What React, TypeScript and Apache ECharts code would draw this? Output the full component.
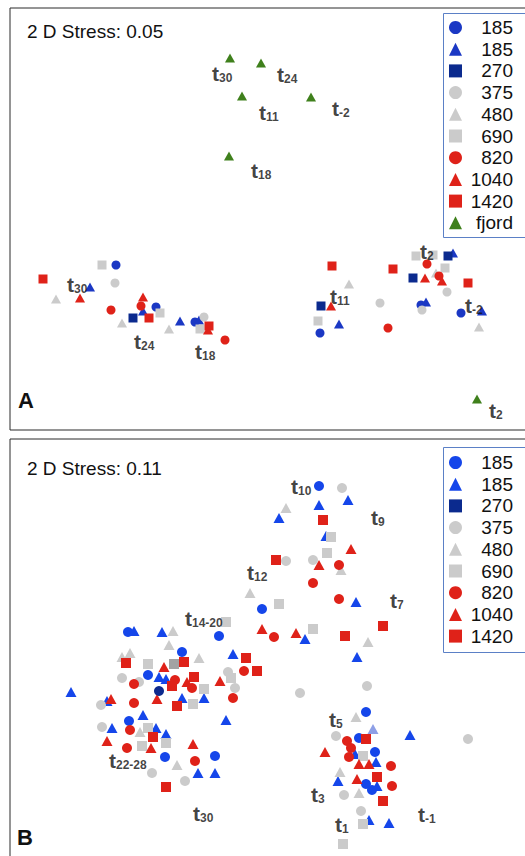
import React, { useEffect, useRef } from "react";
import * as echarts from "echarts";

const FONT = "'Liberation Sans', Arial, Helvetica, sans-serif";

// ---------- Panel A (2 D Stress 0.05) : NMDS coordinates (plot units) ----------
const A_C185 = [[116,265],[156,307],[195,322],[320,333],[421,305],[461,313]];
const A_T185 = [[90,287],[143,311],[180,321],[199,320],[339,324],[426,302],[482,311],[453,253]];
const A_S270 = [[133,318],[321,306],[413,278],[448,256]];
const A_C375 = [[115,283],[204,317],[380,303],[447,292],[422,310]];
const A_T480 = [[56,299],[122,323],[169,329],[349,284],[436,273],[479,327]];
const A_S690 = [[102,265],[160,313],[200,329],[318,321],[416,256],[433,255],[445,268]];
const A_C820 = [[111,310],[141,306],[225,340],[388,328],[427,264],[439,276]];
const A_T1040 = [[80,298],[143,297],[208,330],[331,306],[425,278],[442,281]];
const A_S1420 = [[43,279],[149,318],[209,326],[332,266],[393,269],[468,283]];
const A_FJORD = [[230,58],[261,63],[242,96],[311,97],[229,156],[477,399]];
const A_LABELS: [number, number, string][] = [
  [212,72,"30"],[277,73,"24"],[259,111,"11"],[332,107,"-2"],[251,169,"18"],[489,409,"2"],
  [67,283,"30"],[134,340,"24"],[195,350,"18"],[330,295,"11"],[420,250,"2"],[465,304,"-2"],
];

// ---------- Panel B (2 D Stress 0.11) ----------
const B_C185 = [[319,486],[262,609],[219,636],[128,632],[182,652],[148,675],[129,721],[165,757],[215,756],
  [366,712],[359,738],[375,752],[366,784],[372,790]];
const B_C185_DARK = [[159,691]];
const B_T185 = [[348,500],[319,505],[279,518],[326,536],[356,602],[305,639],[357,657],[134,631],[162,632],
  [233,654],[159,677],[166,679],[182,698],[204,698],[226,720],[71,692],[107,701],[143,715],[112,728],[156,728],
  [166,734],[198,773],[215,773],[410,735],[355,754],[376,762],[338,781],[377,786],[369,820],[389,823]];
const B_T185_FADED = [[373,729]];
const B_S270: number[][] = [];
const B_C375 = [[342,488],[286,561],[313,560],[228,672],[235,688],[122,678],[139,682],[101,705],[102,727],
  [152,773],[185,781],[300,693],[367,686],[468,739],[336,736],[344,795],[361,811]];
const B_T480 = [[286,508],[341,570],[250,593],[368,642],[173,631],[169,645],[199,658],[130,653],[122,657],
  [140,732],[177,765],[356,717],[340,772],[359,793]];
const B_S690 = [[331,537],[327,553],[279,604],[313,629],[226,622],[231,678],[148,664],[204,689],[193,704],
  [148,728],[166,743],[142,746],[363,756],[363,824],[343,844]];
const B_S690_DARK = [[174,664]];
const B_C820 = [[339,565],[313,583],[339,599],[274,637],[244,671],[233,698],[134,684],[175,680],[192,688],
  [134,703],[130,730],[127,748],[195,761],[347,741],[351,748],[349,757],[391,766],[392,786]];
const B_T1040 = [[351,549],[319,565],[262,629],[296,633],[220,681],[164,667],[187,682],[157,699],[111,699],
  [107,741],[151,748],[193,744],[325,752],[359,764],[369,764],[357,779]];
const B_S1420 = [[323,520],[276,560],[345,636],[383,626],[246,658],[257,671],[126,663],[184,662],[172,686],
  [194,677],[177,706],[153,737],[166,787],[366,739],[377,777],[383,801]];
const B_LABELS: [number, number, string][] = [
  [291,485,"10"],[371,516,"9"],[247,571,"12"],[390,599,"7"],[185,617,"14-20"],[329,718,"5"],
  [311,793,"3"],[335,823,"1"],[418,813,"-1"],[109,759,"22-28"],[193,812,"30"],
];

const LEGEND_LABELS: Record<string, string> = {
  c185: "185", t185: "185", s270: "270", c375: "375", t480: "480", s690: "690",
  c820: "820", t1040: "1040", s1420: "1420", fjord: "fjord",
};
const KEYS = ["c185","t185","s270","c375","t480","s690","c820","t1040","s1420","fjord"];

const COL_A: Record<string, string> = {
  c185: "#1b38c4", t185: "#1b38c4", s270: "#0b2a8e", c375: "#cbcbcb", t480: "#cbcbcb",
  s690: "#cbcbcb", c820: "#df2219", t1040: "#df2219", s1420: "#df2219", fjord: "#3f801c",
};
const COL_B: Record<string, string> = {
  c185: "#1546ea", t185: "#1546ea", s270: "#0b2a8e", c375: "#cbcbcb", t480: "#cbcbcb",
  s690: "#cbcbcb", c820: "#df2219", t1040: "#df2219", s1420: "#df2219",
};
const SYM: Record<string, string> = {
  c185: "circle", t185: "triangle", s270: "rect", c375: "circle", t480: "triangle", s690: "rect",
  c820: "circle", t1040: "triangle", s1420: "rect", fjord: "triangle",
};

function scat(name: string, data: number[][], sym: string, color: string, g: number, big: boolean) {
  const size = sym === "circle" ? (big ? 10 : 9) : sym === "triangle" ? (big ? [11, 10] : [10, 9]) : (big ? 10 : 9);
  return {
    type: "scatter", name, data, symbol: sym, symbolSize: size,
    xAxisIndex: g, yAxisIndex: g, itemStyle: { color, opacity: 1 }, z: 3,
    emphasis: { disabled: true }, silent: true,
  };
}

function labelSeries(labels: [number, number, string][], g: number) {
  return {
    type: "scatter", xAxisIndex: g, yAxisIndex: g, symbolSize: 0, z: 5, silent: true,
    data: labels.map((l) => ({ value: [l[0], l[1]], name: l[2] })),
    label: {
      show: true, position: "right", distance: 0,
      formatter: (p: any) => `{t|t}{s|${p.name}}`,
      rich: {
        t: { fontFamily: FONT, fontSize: 21, fontWeight: "bold", color: "#111", lineHeight: 24, verticalAlign: "bottom" },
        s: { fontFamily: FONT, fontSize: 12, fontWeight: "bold", color: "#111", lineHeight: 10, verticalAlign: "bottom" },
      },
    },
  };
}

const A_DATA: Record<string, number[][]> = {
  c185: A_C185, t185: A_T185, s270: A_S270, c375: A_C375, t480: A_T480, s690: A_S690,
  c820: A_C820, t1040: A_T1040, s1420: A_S1420, fjord: A_FJORD,
};
const B_DATA: Record<string, number[][]> = {
  c185: B_C185, t185: B_T185, s270: B_S270, c375: B_C375, t480: B_T480, s690: B_S690,
  c820: B_C820, t1040: B_T1040, s1420: B_S1420,
};

function legend(names: string[], top: number, padTop: number, padBottom: number) {
  return {
    orient: "vertical", left: 443, top, selectedMode: false,
    data: names,
    itemWidth: 13, itemHeight: 13, itemGap: 2.7,
    padding: [padTop, 6, padBottom, 6],
    borderWidth: 0,
    formatter: (n: string) => `{a|${LEGEND_LABELS[n.replace(/^B_/, "")]}}`,
    textStyle: {
      rich: { a: { fontFamily: FONT, fontSize: 19, lineHeight: 19, width: 46, align: "right", color: "#111" } },
    },
  };
}

export default function App() {
  const ref = useRef<HTMLDivElement>(null);
  useEffect(() => {
    const chart = echarts.init(ref.current!, null, { renderer: "svg" });
    const series: any[] = [];
    KEYS.forEach((k) => series.push(scat(k, A_DATA[k], SYM[k], COL_A[k], 0, false)));
    KEYS.filter((k) => k !== "fjord").forEach((k) => series.push(scat("B_" + k, B_DATA[k], SYM[k], COL_B[k], 1, true)));
    series.push(scat("B_c185", B_C185_DARK, "circle", "#0d2a8e", 1, true));
    series.push(scat("B_t185", B_T185_FADED, "triangle", "#8e9fe6", 1, true));
    series.push(scat("B_s690", B_S690_DARK, "rect", "#a3a3a3", 1, true));
    series.push(labelSeries(A_LABELS, 0));
    series.push(labelSeries(B_LABELS, 1));

    chart.setOption({
      animation: false,
      backgroundColor: "#fff",
      grid: [
        { left: 10, top: 8, width: 540, height: 422, show: true, borderColor: "#2a2a2a", borderWidth: 1, backgroundColor: "transparent" },
        { left: 10, top: 439, width: 540, height: 450, show: true, borderColor: "#2a2a2a", borderWidth: 1, backgroundColor: "transparent" },
      ],
      xAxis: [
        { type: "value", gridIndex: 0, min: 10, max: 550, show: false },
        { type: "value", gridIndex: 1, min: 10, max: 550, show: false },
      ],
      yAxis: [
        { type: "value", gridIndex: 0, min: 8, max: 430, inverse: true, show: false },
        { type: "value", gridIndex: 1, min: 439, max: 889, inverse: true, show: false },
      ],
      legend: [
        legend(KEYS, 13, 5, 5),
        legend(KEYS.filter((k) => k !== "fjord").map((k) => "B_" + k), 447, 6, 6),
      ],
      graphic: [
        { type: "rect", shape: { x: 443.5, y: 13.5, width: 120, height: 224 }, style: { fill: "none", stroke: "#5b80c6", lineWidth: 1 }, z: 10 },
        { type: "rect", shape: { x: 443.5, y: 447.5, width: 120, height: 205 }, style: { fill: "none", stroke: "#5b80c6", lineWidth: 1 }, z: 10 },
        { type: "text", x: 27, y: 31, style: { text: "2 D Stress: 0.05", font: `19px ${FONT}`, fill: "#111", verticalAlign: "middle" } },
        { type: "text", x: 27, y: 468, style: { text: "2 D Stress: 0.11", font: `19px ${FONT}`, fill: "#111", verticalAlign: "middle" } },
        { type: "text", x: 18, y: 400, style: { text: "A", font: `bold 22px ${FONT}`, fill: "#111", verticalAlign: "middle" } },
        { type: "text", x: 17, y: 837, style: { text: "B", font: `bold 22px ${FONT}`, fill: "#111", verticalAlign: "middle" } },
      ],
      series,
    });
    return () => chart.dispose();
  }, []);
  return (
    <div
      ref={ref}
      style={{ position: "fixed", left: 0, top: 0, width: 560, height: 900, background: "#fff" }}
    />
  );
}
